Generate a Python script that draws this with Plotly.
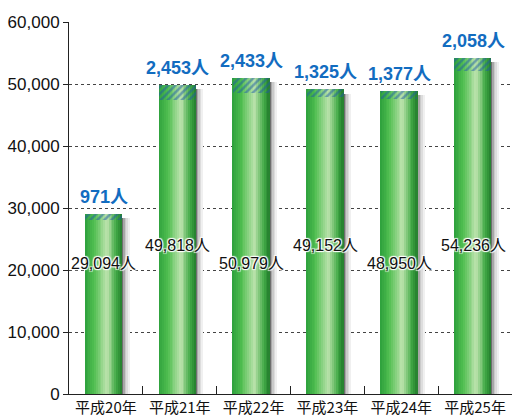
import plotly.graph_objects as go

categories = ["平成20年", "平成21年", "平成22年", "平成23年", "平成24年", "平成25年"]
totals = [29094, 49818, 50979, 49152, 48950, 54236]
increases = [971, 2453, 2433, 1325, 1377, 2058]
y_ticks = [0, 10000, 20000, 30000, 40000, 50000, 60000]
y_tick_labels = ["0", "10,000", "20,000", "30,000", "40,000", "50,000", "60,000"]

total_labels = [f"{v:,}人" for v in totals]
inc_labels = [f"{v:,}人" for v in increases]


def lerp_color(stops, t):
    for i in range(len(stops) - 1):
        p0, c0 = stops[i]
        p1, c1 = stops[i + 1]
        if p0 <= t <= p1:
            f = (t - p0) / (p1 - p0) if p1 > p0 else 0
            c = [round(c0[j] + (c1[j] - c0[j]) * f) for j in range(3)]
            return f"rgb({c[0]},{c[1]},{c[2]})"
    c = stops[-1][1]
    return f"rgb({c[0]},{c[1]},{c[2]})"


fig = go.Figure()

BAR_W = 0.5
BAR_LEFT = -0.28
N = 20
green_stops = [
    (0.0, (45, 160, 60)),
    (0.25, (80, 190, 80)),
    (0.6, (190, 228, 175)),
    (0.85, (65, 170, 70)),
    (1.0, (35, 125, 45)),
]
shadow_stops = [(0.0, (110, 110, 110)), (0.35, (190, 190, 190)), (1.0, (240, 240, 240))]
NS = 5
SW = 0.1
shadow_top = [t - 700 for t in totals]
for k in range(NS):
    fig.add_trace(go.Bar(
        x=categories, y=shadow_top,
        width=[SW / NS] * 6, offset=BAR_LEFT + BAR_W + k * SW / NS,
        marker=dict(color=lerp_color(shadow_stops, k / (NS - 1)), line=dict(width=0)),
        hoverinfo="skip", showlegend=False,
    ))

for k in range(N):
    fig.add_trace(go.Bar(
        x=categories, y=totals,
        width=[BAR_W / N * 1.05] * 6, offset=BAR_LEFT + k * BAR_W / N,
        marker=dict(color=lerp_color(green_stops, (k + 0.5) / N), line=dict(width=0)),
        hoverinfo="skip", showlegend=False,
    ))

fig.add_trace(go.Bar(
    x=categories, y=increases, base=[t - i for t, i in zip(totals, increases)],
    width=[BAR_W] * 6, offset=BAR_LEFT,
    marker=dict(color="rgba(0,0,0,0)", line=dict(width=0),
                pattern=dict(shape="/", fgcolor="#1d5ca6", size=5, solidity=0.5, fillmode="overlay")),
    hoverinfo="skip", showlegend=False,
))

annotations = []
for i, c in enumerate(categories):
    annotations.append(dict(
        x=c, y=totals[i], xref="x", yref="y", text=inc_labels[i], showarrow=False,
        yanchor="bottom", xanchor="center", xshift=-2, yshift=5,
        font=dict(family="Liberation Sans, Noto Sans CJK JP", size=18,
                  color="#126cc0", weight="bold"),
    ))
    annotations.append(dict(
        x=c, y=21000 if i % 2 == 0 else 24000, xref="x", yref="y", text=total_labels[i], showarrow=False,
        yanchor="middle", xanchor="center", xshift=-2,
        font=dict(family="Liberation Sans, Noto Sans CJK JP", size=16, color="#111",
                  shadow="1px 1px 1px #fff, -1px -1px 1px #fff, 1px -1px 1px #fff, -1px 1px 1px #fff"),
    ))

fig.update_layout(
    width=517, height=416,
    margin=dict(l=69, r=5, t=22, b=22, autoexpand=False),
    paper_bgcolor="white", plot_bgcolor="white",
    barmode="overlay", bargap=0,
    showlegend=False,
    annotations=annotations,
    font=dict(family="Liberation Sans, Noto Sans CJK JP", color="#111"),
)
fig.update_xaxes(
    type="category", showline=True, linecolor="#222", linewidth=1,
    ticks="inside", tickson="boundaries", ticklen=8, tickcolor="#222",
    showgrid=False, automargin=False,
    tickfont=dict(family="Noto Sans CJK JP", size=15, color="#111"),
)
fig.update_yaxes(
    range=[0, 60000], tickvals=y_ticks, ticktext=y_tick_labels,
    showline=True, linecolor="#222", linewidth=1,
    ticks="outside", ticklen=5, tickcolor="#222",
    showgrid=True, gridcolor="#444", griddash="dot", gridwidth=1,
    zeroline=False, automargin=False,
    tickfont=dict(family="Liberation Sans", size=17, color="#111"),
)

fig.write_html("out.html", config={"displayModeBar": False},
               post_script="document.body.style.margin='0px';document.body.style.overflow='hidden';")
